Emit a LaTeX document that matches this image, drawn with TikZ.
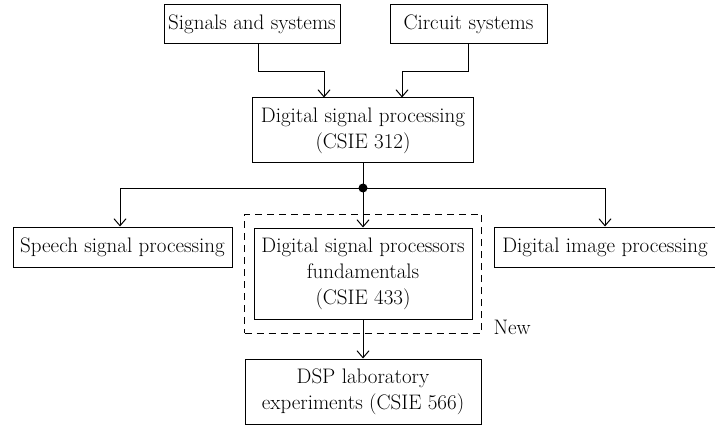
\documentclass[tikz,border=0pt]{standalone}
\usetikzlibrary{arrows.meta,positioning,fit}

\tikzset{
  course/.style={draw,line width=1pt,inner sep=3pt,align=center},
  newbox/.style={draw,line width=1pt,dash pattern=on 7pt off 5pt,inner xsep=9pt,inner ysep=13.5pt},
}

\begin{document}
\begin{tikzpicture}[x=1pt,y=-1pt,on grid,line width=1pt,
    >={Straight Barb[length=7pt,width=12pt]},
    font=\fontsize{21}{26}\selectfont]
    \useasboundingbox (0,0) rectangle (715,425);

    \node[course,minimum width=221pt,minimum height=65pt] (dsp) at (363,130.5)
        {Digital signal processing\\(CSIE 312)};
    \node[course,minimum width=176pt,minimum height=39pt] (sig) [above left=106pt and 111pt of dsp]
        {Signals and systems};
    \node[course,minimum width=157pt,minimum height=39pt] (cir) [above right=106pt and 105.5pt of dsp]
        {Circuit systems};
    \node[course,minimum width=218pt,minimum height=91pt] (dspf) [below=143pt of dsp]
        {Digital signal processors\\fundamentals\\(CSIE 433)};
    \node[course,minimum width=219pt,minimum height=40pt] (spe) [above left=26.5pt and 240.5pt of dspf]
        {Speech signal processing};
    \node[course,minimum width=222pt,minimum height=40pt] (img) [above right=26.5pt and 242pt of dspf]
        {Digital image processing};
    \node[course,minimum width=236pt,minimum height=65pt] (lab) [below=118pt of dspf]
        {DSP laboratory\\experiments (CSIE 566)};

    % new course frame
    \node[newbox,fit=(dspf)] (frame) {};
    \node[anchor=base west,inner sep=0pt] (new) at ([xshift=11pt,yshift=-1pt]frame.south east) {New};

    \coordinate (split) at (363,188);

    \draw[->] ([xshift=6pt]sig.south) -- ++(0,27) -| ([xshift=-39pt]dsp.north);
    \draw[->] ([xshift=-0.5pt]cir.south) -- ++(0,27) -| ([xshift=39pt]dsp.north);
    \draw (dsp) -- (split);
    \draw[->] (split) -| ([xshift=-2.5pt]spe.north);
    \draw[->] (split) -| (img.north);
    \draw[->] (split) -- (dspf);
    \draw[->] (dspf) -- (lab);
    \fill (split) circle (4.5pt);
\end{tikzpicture}
\end{document}
